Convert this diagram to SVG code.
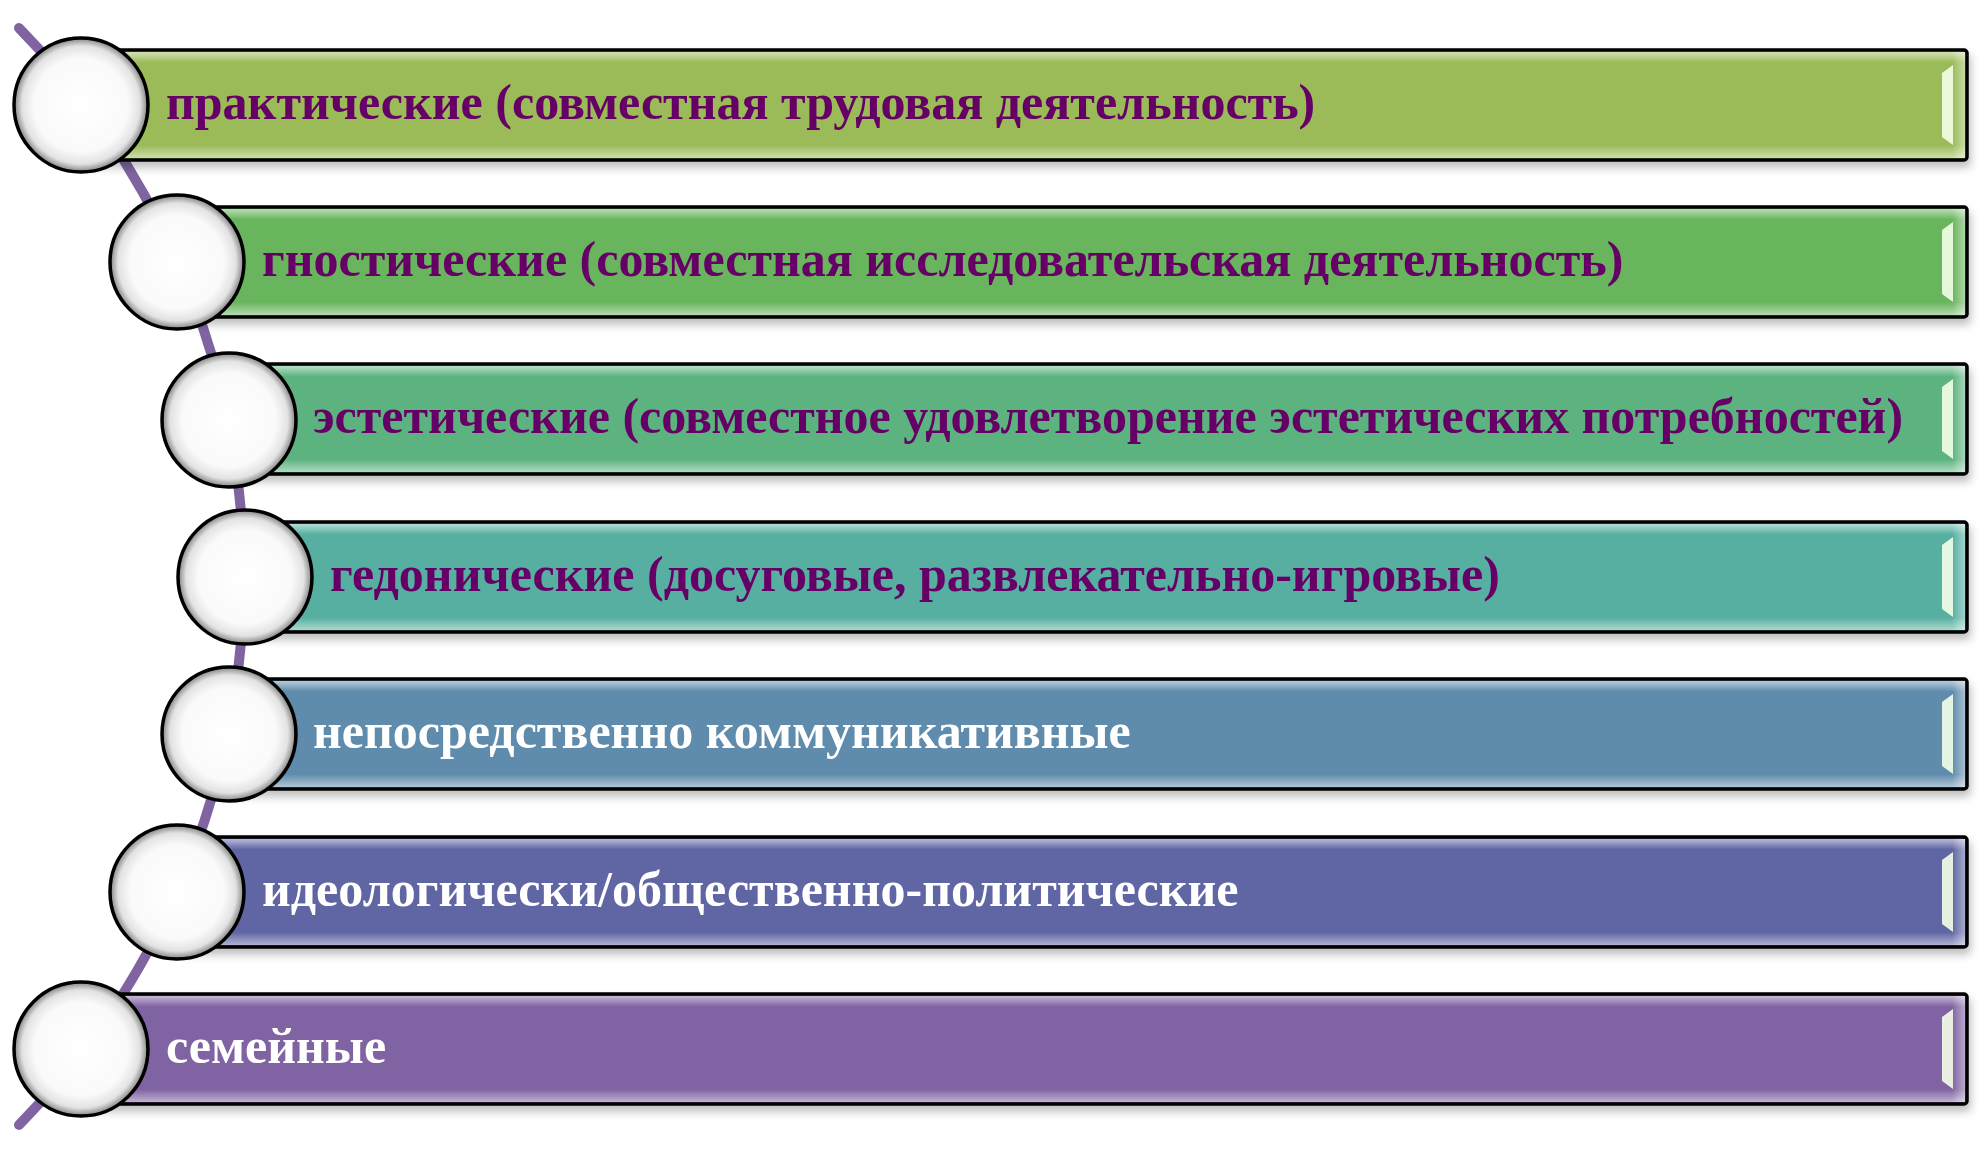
<svg xmlns="http://www.w3.org/2000/svg" width="1982" height="1155" viewBox="0 0 1982 1155">
<style>
.bar{stroke:#000;stroke-width:3.5}
.gloss{fill:url(#gloss)}
.rim{fill:url(#rim)}
.hl{fill:#f4ffe8;opacity:0.9}
.ball{fill:url(#ball);stroke:#000;stroke-width:3.5}
.t{font-family:"Liberation Serif","DejaVu Serif",serif;font-weight:bold;font-size:50px}
.dark{fill:#660066}
.light{fill:#ffffff}
.spine{fill:none;stroke:#8064A2;stroke-width:10;stroke-linecap:round}
</style>
<defs>
<filter id="sh" x="-5%" y="-20%" width="110%" height="150%">
<feDropShadow dx="2" dy="6" stdDeviation="4" flood-color="#000" flood-opacity="0.25"/>
</filter>
<linearGradient id="gloss" x1="0" y1="0" x2="0" y2="1">
<stop offset="0" stop-color="#fff" stop-opacity="0.55"/>
<stop offset="0.1" stop-color="#fff" stop-opacity="0"/>
<stop offset="0.88" stop-color="#fff" stop-opacity="0"/>
<stop offset="1" stop-color="#fff" stop-opacity="0.5"/>
</linearGradient>
<linearGradient id="rim" x1="0" y1="0" x2="1" y2="0">
<stop offset="0" stop-color="#fff" stop-opacity="0"/>
<stop offset="1" stop-color="#fff" stop-opacity="0.45"/>
</linearGradient>
<radialGradient id="ball" cx="0.5" cy="0.5" r="0.5">
<stop offset="0" stop-color="#ffffff"/>
<stop offset="0.7" stop-color="#fafafa"/>
<stop offset="0.88" stop-color="#e2e2e2"/>
<stop offset="0.97" stop-color="#9a9a9a"/>
<stop offset="1" stop-color="#666"/>
</radialGradient>
</defs>
<rect width="1982" height="1155" fill="#fff"/>
<g id="connectors">
<path class="spine" d="M19,28 A782,782 0 0 1 19,1125"/>
</g>
<g id="node1">
<rect class="bar" x="81" y="50" width="1886" height="110" rx="3" fill="#9BBB59" filter="url(#sh)"/>
<rect class="gloss" x="83" y="52" width="1882" height="106"/>
<rect class="rim" x="1952" y="52" width="13" height="106"/>
<polygon class="hl" points="1942,73 1953,65 1953,145 1942,137"/>
<circle class="ball" cx="81" cy="105" r="67"/>
<text class="t dark" x="166" y="119">практические (совместная трудовая деятельность)</text>
</g>
<g id="node2">
<rect class="bar" x="177" y="207" width="1790" height="110" rx="3" fill="#67B55D" filter="url(#sh)"/>
<rect class="gloss" x="179" y="209" width="1786" height="106"/>
<rect class="rim" x="1952" y="209" width="13" height="106"/>
<polygon class="hl" points="1942,230 1953,222 1953,302 1942,294"/>
<circle class="ball" cx="177" cy="262" r="67"/>
<text class="t dark" x="262" y="276">гностические (совместная исследовательская деятельность)</text>
</g>
<g id="node3">
<rect class="bar" x="229" y="364" width="1738" height="110" rx="3" fill="#5BB37F" filter="url(#sh)"/>
<rect class="gloss" x="231" y="366" width="1734" height="106"/>
<rect class="rim" x="1952" y="366" width="13" height="106"/>
<polygon class="hl" points="1942,387 1953,379 1953,459 1942,451"/>
<circle class="ball" cx="229" cy="420" r="67"/>
<text class="t dark" x="313" y="433">эстетические (совместное удовлетворение эстетических потребностей)</text>
</g>
<g id="node4">
<rect class="bar" x="245" y="522" width="1722" height="110" rx="3" fill="#57AFA1" filter="url(#sh)"/>
<rect class="gloss" x="247" y="524" width="1718" height="106"/>
<rect class="rim" x="1952" y="524" width="13" height="106"/>
<polygon class="hl" points="1942,545 1953,537 1953,617 1942,609"/>
<circle class="ball" cx="245" cy="577" r="67"/>
<text class="t dark" x="330" y="591">гедонические (досуговые, развлекательно-игровые)</text>
</g>
<g id="node5">
<rect class="bar" x="229" y="679" width="1738" height="110" rx="3" fill="#5F8CAC" filter="url(#sh)"/>
<rect class="gloss" x="231" y="681" width="1734" height="106"/>
<rect class="rim" x="1952" y="681" width="13" height="106"/>
<polygon class="hl" points="1942,702 1953,694 1953,774 1942,766"/>
<circle class="ball" cx="229" cy="734" r="67"/>
<text class="t light" x="313" y="748">непосредственно коммуникативные</text>
</g>
<g id="node6">
<rect class="bar" x="177" y="837" width="1790" height="110" rx="3" fill="#6165A3" filter="url(#sh)"/>
<rect class="gloss" x="179" y="839" width="1786" height="106"/>
<rect class="rim" x="1952" y="839" width="13" height="106"/>
<polygon class="hl" points="1942,860 1953,852 1953,932 1942,924"/>
<circle class="ball" cx="177" cy="892" r="67"/>
<text class="t light" x="262" y="906">идеологически/общественно-политические</text>
</g>
<g id="node7">
<rect class="bar" x="81" y="994" width="1886" height="110" rx="3" fill="#8064A2" filter="url(#sh)"/>
<rect class="gloss" x="83" y="996" width="1882" height="106"/>
<rect class="rim" x="1952" y="996" width="13" height="106"/>
<polygon class="hl" points="1942,1017 1953,1009 1953,1089 1942,1081"/>
<circle class="ball" cx="81" cy="1049" r="67"/>
<text class="t light" x="166" y="1063">семейные</text>
</g>
</svg>
